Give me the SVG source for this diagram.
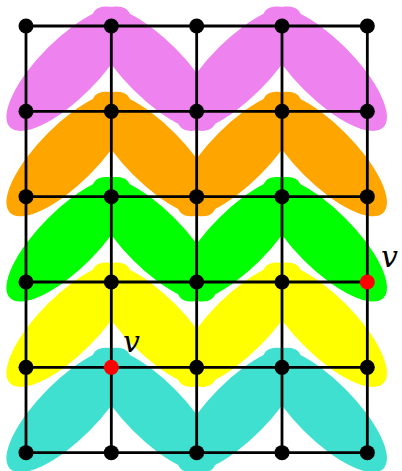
<svg xmlns="http://www.w3.org/2000/svg" width="402" height="471" viewBox="0 0 402 471">
<style>
.e{stroke:none}
.g{stroke:#000;stroke-width:2.8;fill:none}
.n{fill:#000}
.r{fill:#ff0000}
.t{font-family:"DejaVu Serif","Liberation Serif",serif;font-style:italic;font-size:30px;fill:#000}
</style>
<defs>
<ellipse id="L" cx="0" cy="0" rx="83" ry="29.5" transform="rotate(-45)"/>
<ellipse id="R" cx="0" cy="0" rx="83" ry="29.5" transform="rotate(45)"/>
</defs>
<rect width="402" height="471" fill="#fff"/>
<g id="bands">
<g id="band0" fill="#EE82EE">
<use href="#L" x="68.67" y="68.67"/><use href="#R" x="154" y="68.67"/>
<use href="#L" x="239.33" y="68.67"/><use href="#R" x="324.67" y="68.67"/>
</g>
<g id="band1" fill="#FFA500">
<use href="#L" x="68.67" y="154"/><use href="#R" x="154" y="154"/>
<use href="#L" x="239.33" y="154"/><use href="#R" x="324.67" y="154"/>
</g>
<g id="band2" fill="#00FF00">
<use href="#L" x="68.67" y="239.33"/><use href="#R" x="154" y="239.33"/>
<use href="#L" x="239.33" y="239.33"/><use href="#R" x="324.67" y="239.33"/>
</g>
<g id="band3" fill="#FFFF00">
<use href="#L" x="68.67" y="324.67"/><use href="#R" x="154" y="324.67"/>
<use href="#L" x="239.33" y="324.67"/><use href="#R" x="324.67" y="324.67"/>
</g>
<g id="band4" fill="#40E0D0">
<use href="#L" x="68.67" y="410"/><use href="#R" x="154" y="410"/>
<use href="#L" x="239.33" y="410"/><use href="#R" x="324.67" y="410"/>
</g>
</g>
<g id="connectors" class="g">
<line x1="26" y1="26" x2="367.33" y2="26"/>
<line x1="26" y1="111.33" x2="367.33" y2="111.33"/>
<line x1="26" y1="196.67" x2="367.33" y2="196.67"/>
<line x1="26" y1="282" x2="367.33" y2="282"/>
<line x1="26" y1="367.33" x2="367.33" y2="367.33"/>
<line x1="26" y1="452.67" x2="367.33" y2="452.67"/>
<line x1="26" y1="26" x2="26" y2="452.67"/>
<line x1="111.33" y1="26" x2="111.33" y2="452.67"/>
<line x1="196.67" y1="26" x2="196.67" y2="452.67"/>
<line x1="282" y1="26" x2="282" y2="452.67"/>
<line x1="367.33" y1="26" x2="367.33" y2="452.67"/>
</g>
<g id="nodes">
<g id="r0" class="n">
<circle cx="26" cy="26" r="7.5"/><circle cx="111.33" cy="26" r="7.5"/><circle cx="196.67" cy="26" r="7.5"/><circle cx="282" cy="26" r="7.5"/><circle cx="367.33" cy="26" r="7.5"/>
</g>
<g id="r1" class="n">
<circle cx="26" cy="111.33" r="7.5"/><circle cx="111.33" cy="111.33" r="7.5"/><circle cx="196.67" cy="111.33" r="7.5"/><circle cx="282" cy="111.33" r="7.5"/><circle cx="367.33" cy="111.33" r="7.5"/>
</g>
<g id="r2" class="n">
<circle cx="26" cy="196.67" r="7.5"/><circle cx="111.33" cy="196.67" r="7.5"/><circle cx="196.67" cy="196.67" r="7.5"/><circle cx="282" cy="196.67" r="7.5"/><circle cx="367.33" cy="196.67" r="7.5"/>
</g>
<g id="r3" class="n">
<circle cx="26" cy="282" r="7.5"/><circle cx="111.33" cy="282" r="7.5"/><circle cx="196.67" cy="282" r="7.5"/><circle cx="282" cy="282" r="7.5"/>
</g>
<g id="r4" class="n">
<circle cx="26" cy="367.33" r="7.5"/><circle cx="196.67" cy="367.33" r="7.5"/><circle cx="282" cy="367.33" r="7.5"/><circle cx="367.33" cy="367.33" r="7.5"/>
</g>
<g id="r5" class="n">
<circle cx="26" cy="452.67" r="7.5"/><circle cx="111.33" cy="452.67" r="7.5"/><circle cx="196.67" cy="452.67" r="7.5"/><circle cx="282" cy="452.67" r="7.5"/><circle cx="367.33" cy="452.67" r="7.5"/>
</g>
<g id="v1"><circle class="r" cx="111.33" cy="367.33" r="7.5"/><text class="t" x="123" y="352">v</text></g>
<g id="v2"><circle class="r" cx="367.33" cy="282" r="7.5"/><text class="t" x="381" y="267">v</text></g>
</g>
</svg>
